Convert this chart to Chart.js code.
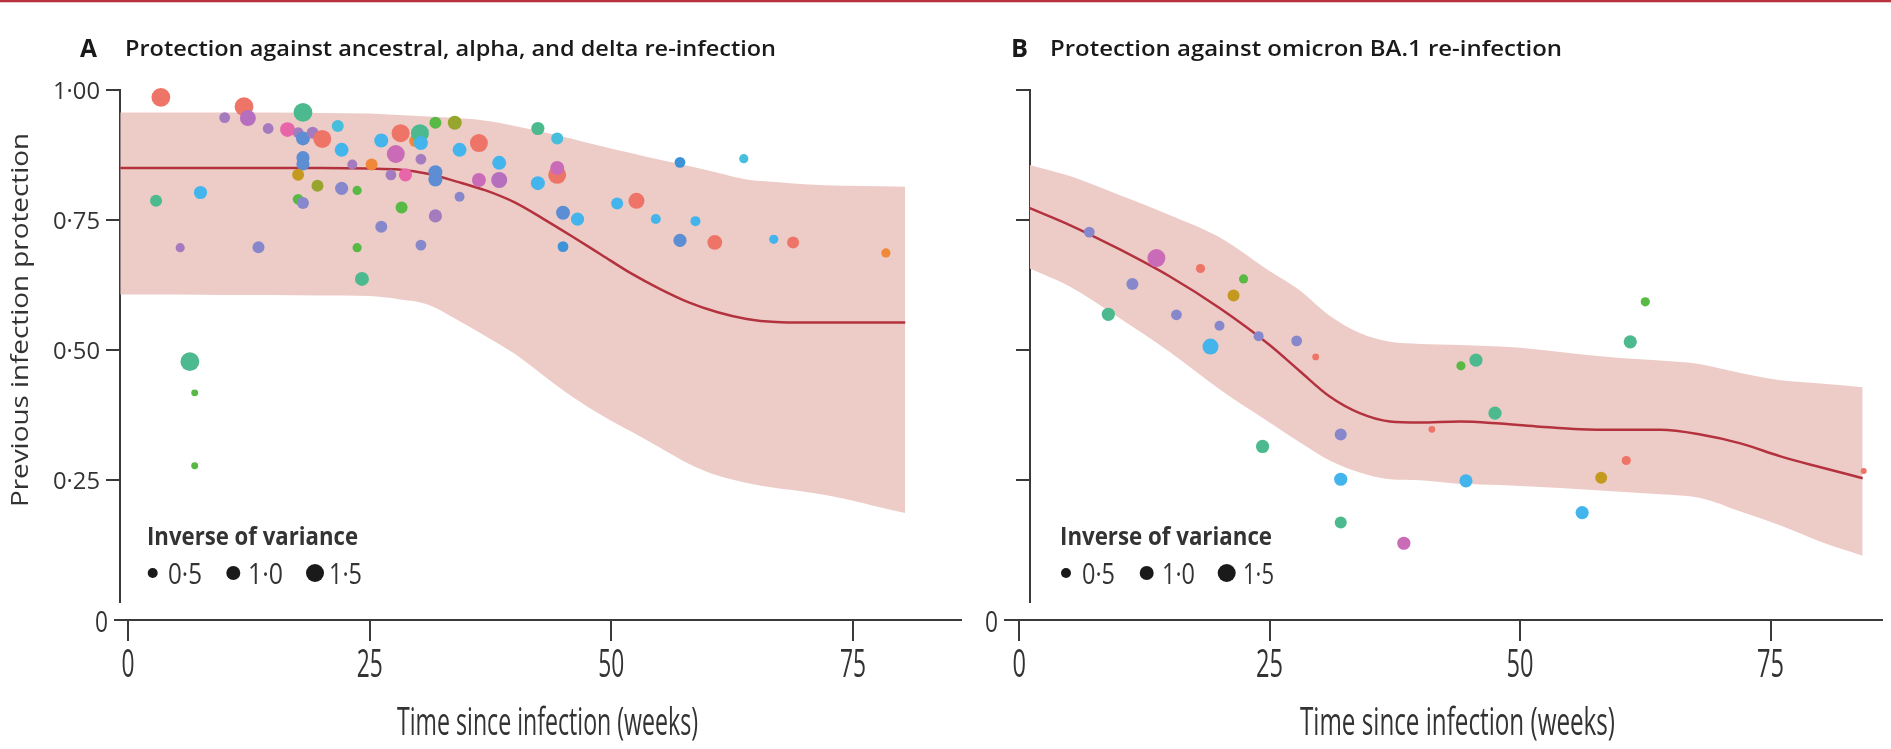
<!DOCTYPE html>
<html><head><meta charset="utf-8">
<script src="https://cdn.jsdelivr.net/npm/chart.js@4.4.1/dist/chart.umd.min.js"></script>
<style>
html,body{margin:0;padding:0;background:#fff;width:1891px;height:749px;overflow:hidden;}
#topline{position:absolute;left:0;top:0;width:1891px;height:2px;background:#b7333f;}
#topline2{position:absolute;left:0;top:2px;width:1891px;height:1px;background:#ecc5c8;}
canvas{position:absolute;left:0;top:0;}
</style></head><body>
<div id="topline"></div><div id="topline2"></div>
<canvas id="cA" width="1891" height="749"></canvas>
<canvas id="cB" width="1891" height="749"></canvas>
<script>
// ---------------- DATA ----------------
const xTicks = [0, 25, 50, 75];
const yTicks = [0.25, 0.5, 0.75, 1.0];
const legendValues = [0.5, 1.0, 1.5];

const letterA = 'A';
const letterB = 'B';
const titleA = 'Protection against ancestral, alpha, and delta re-infection';
const titleB = 'Protection against omicron BA.1 re-infection';
const xTitle = 'Time since infection (weeks)';
const yTitle = 'Previous infection protection';
const legendTitle = 'Inverse of variance';
const zeroLabel = '0';

// Panel A: individual study estimates
const aWeeks = [3.4, 2.9, 5.4, 7.5, 6.4, 6.9, 6.9, 10.0, 12.0, 12.4, 13.5, 14.5, 16.5, 17.6, 18.1, 18.1, 19.1, 20.1, 18.1, 18.1, 17.6, 19.6, 17.6, 18.1, 21.7, 22.1, 23.2, 22.1, 23.7, 23.7, 24.2, 25.2, 26.2, 28.2, 29.7, 30.2, 30.3, 27.7, 27.2, 28.7, 30.3, 31.8, 31.8, 28.3, 26.2, 30.3, 31.8, 31.8, 33.8, 34.3, 34.3, 36.3, 36.3, 38.4, 38.4, 42.4, 44.4, 42.4, 44.4, 44.4, 45.0, 46.5, 45.0, 57.1, 63.7, 50.6, 52.6, 54.6, 58.7, 57.1, 60.7, 66.8, 68.8, 78.4];
const aProtection = [0.986, 0.787, 0.697, 0.803, 0.478, 0.418, 0.278, 0.947, 0.968, 0.946, 0.698, 0.926, 0.924, 0.918, 0.907, 0.957, 0.918, 0.906, 0.870, 0.858, 0.837, 0.816, 0.790, 0.783, 0.931, 0.885, 0.857, 0.811, 0.807, 0.697, 0.637, 0.857, 0.903, 0.917, 0.902, 0.917, 0.898, 0.877, 0.837, 0.837, 0.867, 0.842, 0.828, 0.774, 0.737, 0.702, 0.758, 0.937, 0.937, 0.885, 0.795, 0.898, 0.827, 0.860, 0.827, 0.926, 0.907, 0.821, 0.837, 0.850, 0.764, 0.752, 0.699, 0.861, 0.868, 0.782, 0.787, 0.752, 0.748, 0.711, 0.707, 0.713, 0.707, 0.687];
const aInverseVariance = [1.6, 0.75, 0.4, 0.9, 1.6, 0.12, 0.12, 0.6, 1.6, 1.25, 0.75, 0.6, 1.1, 0.6, 1.0, 1.6, 0.75, 1.5, 0.9, 0.9, 0.75, 0.75, 0.6, 0.75, 0.75, 1.0, 0.5, 0.9, 0.4, 0.4, 1.0, 0.75, 1.0, 1.5, 0.75, 1.5, 1.0, 1.5, 0.6, 0.9, 0.6, 1.0, 1.0, 0.75, 0.75, 0.6, 0.9, 0.75, 1.0, 1.0, 0.5, 1.5, 1.0, 1.0, 1.25, 0.9, 0.75, 1.0, 1.5, 1.0, 1.0, 0.9, 0.6, 0.6, 0.4, 0.75, 1.25, 0.5, 0.5, 0.9, 1.1, 0.4, 0.75, 0.4];
const aStudyGroup = ['red','teal','purple','sky','teal','green','green','purple','red','orchid','violet','purple','pink','purple','slate','teal','purple','red','slate','slate','gold','olive','green','violet','cyan','sky','purple','violet','green','green','teal','orange','sky','red','orange','teal','sky','magenta','purple','pink','purple','slate','slate','green','violet','violet','purple','green','olive','sky','violet','red','magenta','sky','orchid','teal','cyan','sky','red','magenta','slate','sky','blue','blue','cyan','sky','red','sky','sky','slate','red','sky','red','orange'];

// Panel A: fitted curve and uncertainty band
const aCurveWeeks = [-0.8, 5, 10, 15, 20, 25, 28, 31, 34, 37, 40, 43, 46, 49, 52, 55, 58, 61, 64, 67, 70, 74, 78, 80.4];
const aFit   = [0.850, 0.850, 0.850, 0.850, 0.850, 0.849, 0.847, 0.839, 0.824, 0.807, 0.784, 0.752, 0.718, 0.683, 0.648, 0.618, 0.592, 0.573, 0.560, 0.554, 0.553, 0.553, 0.553, 0.553];
const aUpper = [0.957, 0.957, 0.957, 0.957, 0.956, 0.955, 0.952, 0.949, 0.946, 0.941, 0.931, 0.919, 0.906, 0.892, 0.879, 0.866, 0.854, 0.841, 0.828, 0.823, 0.819, 0.816, 0.815, 0.814];
const aLower = [0.607, 0.607, 0.606, 0.606, 0.605, 0.604, 0.598, 0.588, 0.559, 0.527, 0.493, 0.451, 0.410, 0.375, 0.344, 0.313, 0.282, 0.259, 0.245, 0.235, 0.228, 0.215, 0.197, 0.187];

// Panel B: individual study estimates
const bWeeks = [7.0, 13.7, 18.1, 22.4, 21.4, 11.3, 8.9, 15.7, 20.0, 19.1, 23.9, 27.7, 29.6, 32.1, 41.2, 24.3, 32.1, 32.1, 38.4, 62.5, 61.0, 45.6, 44.1, 47.5, 44.6, 56.2, 58.1, 60.6, 84.3];
const bProtection = [0.727, 0.677, 0.657, 0.637, 0.605, 0.627, 0.569, 0.568, 0.547, 0.507, 0.527, 0.518, 0.487, 0.338, 0.348, 0.315, 0.252, 0.169, 0.129, 0.593, 0.516, 0.481, 0.470, 0.379, 0.249, 0.188, 0.255, 0.288, 0.268];
const bInverseVariance = [0.6, 1.5, 0.4, 0.4, 0.75, 0.75, 0.9, 0.6, 0.5, 1.25, 0.5, 0.6, 0.1, 0.75, 0.1, 0.9, 0.9, 0.75, 0.9, 0.4, 0.9, 0.9, 0.4, 0.9, 0.9, 0.9, 0.75, 0.4, 0.0];
const bStudyGroup = ['violet','magenta','red','green','gold','violet','teal','violet','violet','sky','violet','violet','red','violet','red','teal','sky','teal','magenta','green','teal','teal','green','teal','sky','sky','gold','red','red'];

// Panel B: fitted curve and uncertainty band
const bCurveWeeks = [1.06, 5, 10, 15, 20, 25, 28, 31, 34, 37, 40, 44, 48, 52, 56, 60, 64, 68, 72, 76, 80, 84.2];
const bFit   = [0.773, 0.741, 0.694, 0.642, 0.581, 0.510, 0.460, 0.411, 0.379, 0.363, 0.361, 0.363, 0.359, 0.353, 0.348, 0.347, 0.347, 0.338, 0.321, 0.296, 0.275, 0.254];
const bUpper = [0.856, 0.835, 0.798, 0.760, 0.717, 0.652, 0.615, 0.566, 0.533, 0.516, 0.512, 0.510, 0.507, 0.501, 0.492, 0.485, 0.480, 0.473, 0.456, 0.442, 0.436, 0.429];
const bLower = [0.657, 0.623, 0.562, 0.497, 0.425, 0.361, 0.323, 0.288, 0.265, 0.252, 0.250, 0.243, 0.241, 0.237, 0.233, 0.228, 0.223, 0.216, 0.190, 0.163, 0.132, 0.105];

// ---------------- STYLE ----------------
const PALETTE = {
  red:'#EF7468', teal:'#4DB98E', green:'#58BA45', olive:'#97A52C', gold:'#C4991F',
  orange:'#F0883A', cyan:'#46BEDC', sky:'#44B5EC', blue:'#3E92D8', slate:'#5D8DD2',
  violet:'#8788CB', purple:'#A57BC0', orchid:'#B66FBE', magenta:'#C96BB7', pink:'#E865AA'
};
const BAND = '#EDCCC8';
const LINE = '#B4323E';
const AXIS = '#3a3a3a';
const INK = '#262626';
const FONT = '"Open Sans", "Noto Sans", "DejaVu Sans", sans-serif';
const rOf = w => 3 + 4 * w;
const fmtY = v => v.toFixed(2).replace('.', '\u00B7');
const fmtL = v => v.toFixed(1).replace('.', '\u00B7');

function drawFit(ctx, text, x, y, o) {
  ctx.save();
  ctx.font = (o.weight || 400) + ' ' + o.size + 'px ' + FONT;
  const nat = ctx.measureText(text).width;
  const sx = (o.sx != null) ? o.sx : (o.width ? o.width / nat : 1);
  ctx.translate(x, y);
  if (o.rotate) ctx.rotate(o.rotate);
  ctx.scale(sx, 1);
  ctx.textAlign = o.align || 'left';
  ctx.textBaseline = 'alphabetic';
  ctx.fillStyle = o.color || INK;
  ctx.fillText(text, 0, 0);
  ctx.restore();
}
function scaleFor(ctx, sample, size, weight, width) {
  ctx.save();
  ctx.font = weight + ' ' + size + 'px ' + FONT;
  const w = ctx.measureText(sample).width;
  ctx.restore();
  return width / w;
}

function panelPlugin(L) {
  return {
    id: 'panelText' + L.letter,
    afterDraw(chart) {
      const ctx = chart.ctx;
      const xs = chart.scales.x, ys = chart.scales.y;
      // panel title
      drawFit(ctx, L.letter, L.letterX, 57, {size: 25, weight: 700, width: 17, color: '#1a1a1a'});
      drawFit(ctx, L.title, L.titleX, 56, {size: 21, weight: 600, width: L.titleW, color: '#1a1a1a'});
      const spineX = xs.getPixelForValue(L.spineAt);
      const axisY = ys.getPixelForValue(L.axisAt);
      // y tick labels
      if (L.yLabels) {
        const sx = scaleFor(ctx, '0\u00B775', 24, 400, 47);
        ys.ticks.forEach(t => {
          drawFit(ctx, fmtY(t.value), spineX - 20, ys.getPixelForValue(t.value) + 8.6, {size: 24, sx: sx, align: 'right', color: '#333'});
        });
        drawFit(ctx, yTitle, 28, 320, {size: 24, width: 374, align: 'center', rotate: -Math.PI / 2, color: '#333'});
      }
      // zero label at axis corner
      drawFit(ctx, zeroLabel, L.zeroRight, axisY + 12, {size: 30, width: 13, align: 'right', color: '#333'});
      // x tick labels
      const sxT = scaleFor(ctx, '25', 38, 400, L.tickW);
      xs.ticks.forEach(t => {
        drawFit(ctx, String(t.value), xs.getPixelForValue(t.value), axisY + 57, {size: 38, sx: sxT, align: 'center', color: '#333'});
      });
      // x title
      drawFit(ctx, xTitle, L.xTitleX, axisY + 115, {size: 38, width: L.xTitleW, color: '#333'});
      // legend
      drawFit(ctx, legendTitle, L.legX, 545, {size: 25, weight: 700, width: L.legW, color: '#333'});
      legendValues.forEach((v, i) => {
        ctx.save();
        ctx.fillStyle = '#1a1a1a';
        ctx.beginPath();
        ctx.arc(L.dotX[i], 573, rOf(v), 0, Math.PI * 2);
        ctx.fill();
        ctx.restore();
        drawFit(ctx, fmtL(v), L.labX[i], 584, {size: 30, width: L.labW[i], color: '#333'});
      });
    }
  };
}

function makeChart(id, P, L) {
  const pts = P.weeks.map((x, i) => ({x: x, y: P.prot[i]}));
  const curve = arr => P.cw.map((x, i) => ({x: x, y: arr[i]}));
  return new Chart(document.getElementById(id), {
    type: 'scatter',
    data: {
      datasets: [
        {label: 'Studies', data: pts, pointRadius: P.iv.map(rOf), pointHoverRadius: P.iv.map(rOf),
         backgroundColor: P.grp.map(g => PALETTE[g]), pointBorderWidth: 0, borderWidth: 0, clip: false, order: 0},
        {label: 'Fit', type: 'line', data: curve(P.fit), borderColor: LINE, borderWidth: 2.5, pointRadius: 0,
         cubicInterpolationMode: 'monotone', fill: false, order: 1},
        {label: 'Upper', type: 'line', data: curve(P.up), borderWidth: 0, borderColor: 'rgba(0,0,0,0)', pointRadius: 0,
         cubicInterpolationMode: 'monotone', fill: '+1', backgroundColor: BAND, order: 2},
        {label: 'Lower', type: 'line', data: curve(P.lo), borderWidth: 0, borderColor: 'rgba(0,0,0,0)', pointRadius: 0,
         cubicInterpolationMode: 'monotone', fill: false, order: 3}
      ]
    },
    options: {
      responsive: false, animation: false, devicePixelRatio: 1, events: [],
      layout: {padding: {left: P.area[0], top: P.area[1], right: 1891 - P.area[2], bottom: 749 - P.area[3]}},
      plugins: {legend: {display: false}, tooltip: {enabled: false}, title: {display: false}},
      scales: {
        x: {type: 'linear', min: P.xMin, max: P.xMax, position: {y: L.axisAt},
            afterBuildTicks: s => { s.ticks = xTicks.map(v => ({value: v})); },
            ticks: {display: false},
            grid: {display: true, drawOnChartArea: false, drawTicks: true, tickLength: 20, color: AXIS, lineWidth: 2},
            border: {display: true, color: AXIS, width: 2}},
        y: {type: 'linear', min: P.yMin, max: 1.0, position: {x: L.spineAt},
            afterBuildTicks: s => { s.ticks = yTicks.map(v => ({value: v})); },
            ticks: {display: false},
            grid: {display: true, drawOnChartArea: false, drawTicks: true, tickLength: 13, color: AXIS, lineWidth: 2},
            border: {display: true, color: AXIS, width: 2}}
      }
    },
    plugins: [panelPlugin(L)]
  });
}

makeChart('cA',
  {weeks: aWeeks, prot: aProtection, iv: aInverseVariance, grp: aStudyGroup,
   cw: aCurveWeeks, fit: aFit, up: aUpper, lo: aLower,
   area: [115, 90, 961, 602], xMin: -1.345, xMax: 86.17, yMin: 0.0161},
  {letter: letterA, letterX: 80, title: titleA, titleX: 125, titleW: 651, spineAt: -0.83, axisAt: -0.0185,
   yLabels: true, zeroRight: 108, tickW: 26, xTitleX: 397, xTitleW: 301,
   legX: 147, legW: 211, dotX: [152.7, 233.3, 315], labX: [168, 248, 329], labW: [34, 35, 33]});

makeChart('cB',
  {weeks: bWeeks, prot: bProtection, iv: bInverseVariance, grp: bStudyGroup,
   cw: bCurveWeeks, fit: bFit, up: bUpper, lo: bLower,
   area: [1005, 90, 1891, 602], xMin: -1.413, xMax: 86.13, yMin: 0.0161},
  {letter: letterB, letterX: 1011, title: titleB, titleX: 1050, titleW: 512, spineAt: 1.06, axisAt: -0.0185,
   yLabels: false, zeroRight: 998, tickW: 27, xTitleX: 1300, xTitleW: 315,
   legX: 1060, legW: 212, dotX: [1066, 1146.7, 1226.7], labX: [1082, 1162, 1243], labW: [33, 33, 31]});
</script></body></html>
